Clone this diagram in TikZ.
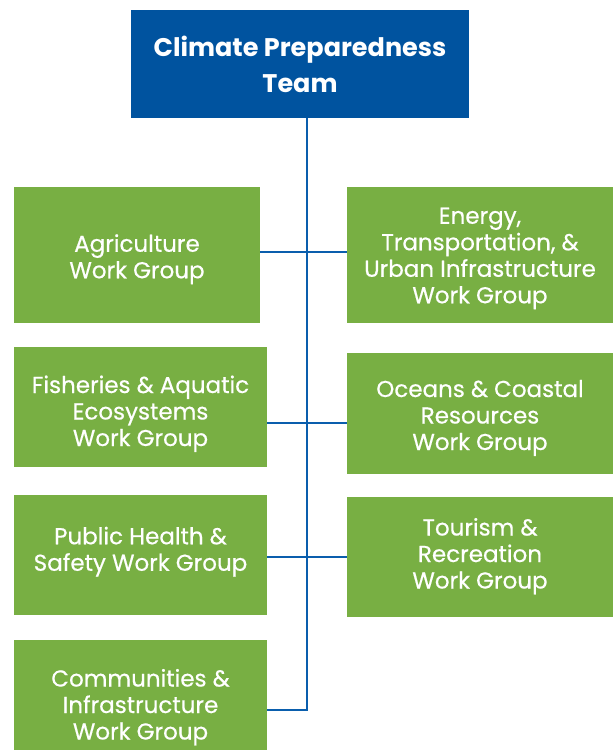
\documentclass[tikz,border=0pt]{standalone}
\usepackage{fontspec}
\setmainfont{Poppins}
\newfontfamily\groupfont{Poppins}[FakeBold=0.5]
\usepackage{tikz}
\usetikzlibrary{positioning}

\definecolor{teamblue}{HTML}{00539F}
\definecolor{linkblue}{HTML}{0A5EAD}
\definecolor{groupgreen}{HTML}{78AF43}

% text block with fixed top/bottom so it can sit a little off centre
\newcommand\grouptext[2]{\rule{0pt}{\dimexpr31pt+#1pt*2\relax}#2\rule[-15pt]{0pt}{0pt}}

\begin{document}
\begin{tikzpicture}[x=1pt, y=-1pt]
    \tikzstyle{team} = [fill=teamblue, text=white, inner sep=0pt,
        align=center, font=\fontsize{25.5}{36}\selectfont\bfseries]
    \tikzstyle{group} = [fill=groupgreen, text=white, inner sep=0pt,
        align=center, font=\groupfont\fontsize{23}{26.5}\selectfont]
    \tikzstyle{link} = [draw=linkblue, line width=2.5pt]
    \useasboundingbox (0,0) rectangle (613,750);
    \node [team, minimum width=338pt, minimum height=108pt] at (300,64) (team)
        {Climate Preparedness\\Team};
    \node [group, minimum width=246pt, minimum height=136pt] at (137,255) (agri)
        {\grouptext{2}{Agriculture\\Work Group}};
    \node [group, minimum width=266pt, minimum height=136pt] at (480,255) (energy)
        {\grouptext{0.5}{Energy,\\Transportation, \&\\Urban Infrastructure\\Work Group}};
    \node [group, minimum width=253pt, minimum height=120pt] at (140.5,406.5) (fish)
        {\grouptext{5}{Fisheries \& Aquatic\\Ecosystems\\Work Group}};
    \node [group, minimum width=266pt, minimum height=121pt] at (480,413.5) (ocean)
        {\grouptext{2}{Oceans \& Coastal\\Resources\\Work Group}};
    \node [group, minimum width=253pt, minimum height=120pt] at (140.5,555) (health)
        {\grouptext{-5.5}{Public Health \&\\Safety Work Group}};
    \node [group, minimum width=266pt, minimum height=120pt] at (480,556.5) (tourism)
        {\grouptext{-2.5}{Tourism \&\\Recreation\\Work Group}};
    \node [group, minimum width=253pt, minimum height=130pt] at (140.5,705) (comm)
        {\grouptext{0}{Communities \&\\Infrastructure\\Work Group}};
    % spine and branches
    \coordinate (row1) at (307,252);
    \coordinate (row2) at (307,423);
    \coordinate (row3) at (307,557);
    \coordinate (row4) at (307,710);
    \draw [link] (team.south -| row4) -- (row4) -- (comm.east |- row4);
    \draw [link] (agri.east |- row1) -- (energy.west |- row1);
    \draw [link] (fish.east |- row2) -- (ocean.west |- row2);
    \draw [link] (health.east |- row3) -- (tourism.west |- row3);
\end{tikzpicture}
\end{document}
